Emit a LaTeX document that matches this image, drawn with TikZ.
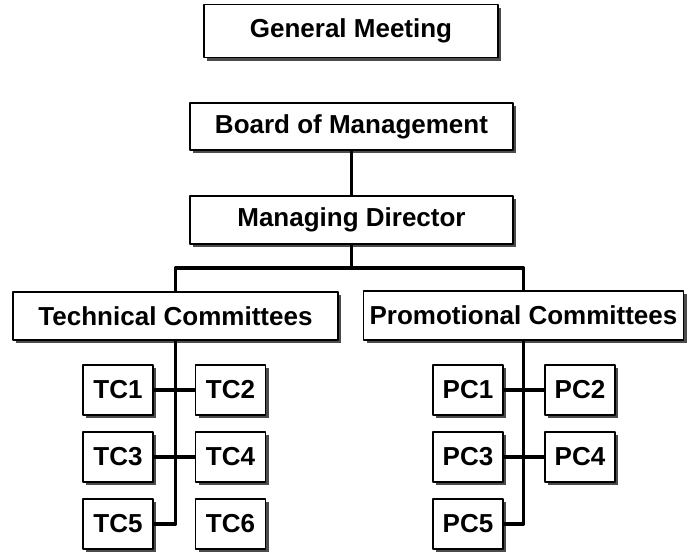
\documentclass[tikz,border=0pt]{standalone}
\usepackage{fontspec}
\setmainfont{Liberation Sans}
\usetikzlibrary{shadows}

\begin{document}
\begin{tikzpicture}[line cap=round,line join=round,x=1pt,y=-1pt,
	box/.style={draw=black,line width=1.2pt,fill=white,inner sep=0pt,
		font=\fontsize{26}{30}\selectfont\bfseries,
		drop shadow={shadow xshift=3pt,shadow yshift=-3pt,opacity=1,fill=black!70}},
	small/.style={box,minimum width=70pt,minimum height=50pt},
	conn/.style={line width=3.4pt,line cap=butt}]
		\useasboundingbox (0,0) rectangle (691,554);
		% top levels
		\node[box,minimum width=294pt,minimum height=53pt] (gm) at (351,31) {General Meeting};
		\node[box,minimum width=323pt,minimum height=47pt] (bm) at (351.5,126.5) {Board of Management};
		\node[box,minimum width=323pt,minimum height=48pt] (md) at (351.5,220) {Managing Director};
		\node[box,minimum width=325pt,minimum height=48pt] (tcm) at (175.5,316) {Technical Committees};
		\node[box,minimum width=320pt,minimum height=49pt] (pcm) at (523.5,315.5) {Promotional Committees};
		\coordinate (split) at (351.5,268);
		% committees
		\node[small] (tc1) at (118,390) {TC1};
		\node[small] (tc2) at (230.5,390) {TC2};
		\node[small] (tc3) at (118,457) {TC3};
		\node[small] (tc4) at (230.5,457) {TC4};
		\node[small] (tc5) at (118,524) {TC5};
		\node[small] (tc6) at (230.5,524) {TC6};
		\node[small] (pc1) at (468,390) {PC1};
		\node[small] (pc2) at (580,390) {PC2};
		\node[small] (pc3) at (468,457) {PC3};
		\node[small] (pc4) at (580,457) {PC4};
		\node[small] (pc5) at (468,524) {PC5};
		% connectors
		\draw[conn] (bm.south) -- (md.north);
		\draw[conn] (md.south) -- (split);
		\draw[conn] (tcm.north) |- (split) -| (pcm.north);
		\draw[conn] (tcm.south) |- (tc5.east);
		\draw[conn] (tc1.east) -- (tc2.west);
		\draw[conn] (tc3.east) -- (tc4.west);
		\draw[conn] (pcm.south) |- (pc5.east);
		\draw[conn] (pc1.east) -- (pc2.west);
		\draw[conn] (pc3.east) -- (pc4.west);
	\end{tikzpicture}
\end{document}
